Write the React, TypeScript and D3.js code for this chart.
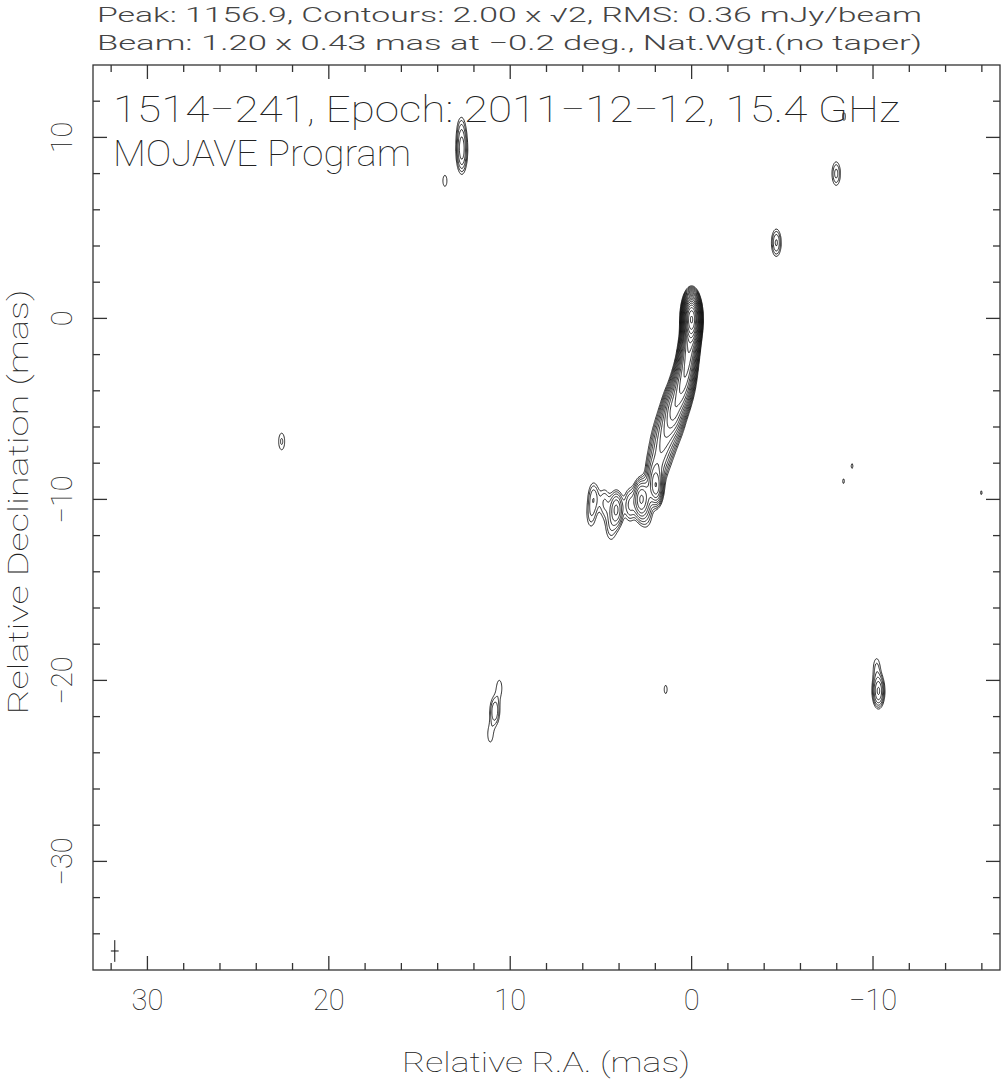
import * as d3 from "d3";
import { useEffect, useRef } from "react";

const width = 1001;
const height = 1079;

// map extent in mas (R.A. runs right to left)
const raDomain = [33, -17];
const decDomain = [14, -36];
const xMajor = [30, 20, 10, 0, -10];
const yMajor = [10, 0, -10, -20, -30];

const headerLines = [
  "Peak: 1156.9, Contours: 2.00 x \u221A2, RMS: 0.36 mJy/beam",
  "Beam: 1.20 x 0.43 mas at \u22120.2 deg., Nat.Wgt.(no taper)",
];
const titleLines = ["1514\u2212241, Epoch: 2011\u221212\u221212, 15.4 GHz", "MOJAVE Program"];

// beam: major, minor (mas), position angle (deg); its plotted position
const beam = [1.2, 0.43, -0.2];
const beamPos = [31.8, -34.95];

// contours: lowest level (mJy/beam), factor, peak
const lowestLevel = 2.0;
const levelFactor = Math.SQRT2;
const peakFlux = 1156.9;

// [ra, dec, peak mJy/beam, extra sigma ra, extra sigma dec]
const coreJet = [
  [0.0, 0.0, 1000, 0, 0],
  [0.03, -0.7, 200, 0.05, 0.1],
  [0.1, -1.4, 110, 0.08, 0.2],
  [0.2, -2.1, 90, 0.1, 0.2],
  [0.3, -2.8, 80, 0.12, 0.2],
  [0.45, -3.5, 70, 0.15, 0.2],
  [0.65, -4.2, 55, 0.17, 0.25],
  [0.95, -4.95, 40, 0.2, 0.3],
  [1.15, -5.6, 22, 0.25, 0.3],
  [1.4, -6.3, 13, 0.28, 0.3],
  [1.6, -7.0, 9, 0.3, 0.3],
  [1.75, -7.7, 7, 0.28, 0.3],
  [1.95, -8.35, 7, 0.25, 0.3],
];
const outerJet = [
  [2.05, -8.95, 10, 0.15, 0.3],
  [1.95, -9.35, 22, 0.05, 0.1],
  [2.45, -9.75, 7, 0.1, 0.2],
  [2.8, -10.0, 22, 0.12, 0.25],
  [3.4, -10.3, 6, 0.1, 0.3],
  [4.15, -10.55, 12, 0.12, 0.25],
  [4.45, -11.5, 3.5, 0.15, 0.4],
  [4.8, -10.2, 4, 0.1, 0.3],
  [5.4, -9.9, 5, 0.1, 0.3],
  [5.55, -10.9, 3, 0.1, 0.3],
  [2.5, -10.9, 3, 0.2, 0.3],
];
const isolated = [
  [12.67, 9.3, 10, 0, 0.55],
  [12.7, 10.5, 2.5, 0, 0.3],
  [13.6, 7.6, 2.4, 0, 0],
  [-7.97, 8.0, 4.5, 0, 0],
  [-4.67, 4.18, 6, 0, 0],
  [22.6, -6.8, 3, 0, 0],
  [-10.3, -20.6, 12, 0.05, 0.1],
  [-10.2, -19.3, 3, 0, 0.2],
  [10.85, -21.7, 5.5, 0.05, 0.2],
  [10.6, -20.4, 2.6, 0, 0.2],
  [11.1, -23.0, 2.6, 0, 0.2],
  [1.43, -20.5, 2.2, 0, 0.1],
  [-8.4, 11.15, 2.2, 0, 0],
  [-8.85, -8.15, 2.05, 0, 0],
  [-8.37, -9.0, 2.05, 0, 0],
  [-15.97, -9.63, 2.05, 0, 0],
];

const font = "Roboto, 'DejaVu Sans', sans-serif";
const ink = "#333";

function ContourMap() {
  const ref = useRef<SVGSVGElement>(null);

  useEffect(() => {
    const svg = d3.select(ref.current);
    svg.selectAll("*").remove();

    const left = 93;
    const right = 1000;
    const top = 65;
    const bottom = 970;

    const x = d3.scaleLinear().domain(raDomain).range([left, right]);
    const y = d3.scaleLinear().domain(decDomain).range([top, bottom]);

    // brightness grid
    const step = 0.05;
    const nx = Math.round((raDomain[0] - raDomain[1]) / step) + 1;
    const ny = Math.round((decDomain[0] - decDomain[1]) / step) + 1;
    const grid = new Float64Array(nx * ny);
    const bsx = beam[1] / 2.3548;
    const bsy = beam[0] / 2.3548;

    [...coreJet, ...outerJet, ...isolated].forEach(([ra, dec, pk, sx, sy]) => {
      const tx = Math.hypot(bsx, sx);
      const ty = Math.hypot(bsy, sy);
      const i0 = Math.max(0, Math.floor((raDomain[0] - ra - 6 * tx) / step));
      const i1 = Math.min(nx - 1, Math.ceil((raDomain[0] - ra + 6 * tx) / step));
      const j0 = Math.max(0, Math.floor((decDomain[0] - dec - 6 * ty) / step));
      const j1 = Math.min(ny - 1, Math.ceil((decDomain[0] - dec + 6 * ty) / step));
      for (let j = j0; j <= j1; j++) {
        const dy = (decDomain[0] - j * step - dec) / ty;
        for (let i = i0; i <= i1; i++) {
          const dx = (raDomain[0] - i * step - ra) / tx;
          grid[j * nx + i] += pk * Math.exp(-0.5 * (dx * dx + dy * dy));
        }
      }
    });

    const levels: number[] = [];
    for (let v = lowestLevel; v <= peakFlux; v *= levelFactor) levels.push(v);

    const contours = d3.contours().size([nx, ny]).thresholds(levels)(grid as any);

    const proj = d3.geoTransform({
      point: function (px: number, py: number) {
        this.stream.point(x(raDomain[0] - (px - 0.5) * step), y(decDomain[0] - (py - 0.5) * step));
      },
    });
    const path = d3.geoPath(proj);

    svg
      .append("clipPath")
      .attr("id", "frame")
      .append("rect")
      .attr("x", left)
      .attr("y", top)
      .attr("width", right - left)
      .attr("height", bottom - top);

    svg
      .append("g")
      .attr("clip-path", "url(#frame)")
      .selectAll("path")
      .data(contours)
      .join("path")
      .attr("d", (d: any) => path(d))
      .attr("fill", "none")
      .attr("stroke", "#111")
      .attr("stroke-width", 0.9);

    // frame
    svg
      .append("rect")
      .attr("x", left)
      .attr("y", top)
      .attr("width", right - left)
      .attr("height", bottom - top)
      .attr("fill", "none")
      .attr("stroke", ink)
      .attr("stroke-width", 1.3);

    const ticks = svg.append("g").attr("stroke", ink).attr("stroke-width", 1.3);
    d3.range(-16, 33, 2).forEach((v) => {
      const len = xMajor.includes(v) ? 14 : 7;
      ticks.append("line").attr("x1", x(v)).attr("x2", x(v)).attr("y1", bottom).attr("y2", bottom - len);
      ticks.append("line").attr("x1", x(v)).attr("x2", x(v)).attr("y1", top).attr("y2", top + len);
    });
    d3.range(-34, 14, 2).forEach((v) => {
      const len = yMajor.includes(v) ? 14 : 7;
      ticks.append("line").attr("y1", y(v)).attr("y2", y(v)).attr("x1", left).attr("x2", left + len);
      ticks.append("line").attr("y1", y(v)).attr("y2", y(v)).attr("x1", right).attr("x2", right - len);
    });

    const fmt = (v: number) => (v < 0 ? "\u2212" + Math.abs(v) : String(v));

    svg
      .append("g")
      .selectAll("text")
      .data(xMajor)
      .join("text")
      .attr("x", (d) => x(d))
      .attr("y", 1010)
      .attr("text-anchor", "middle")
      .attr("font-size", 29)
      .text(fmt);

    svg
      .append("g")
      .selectAll("text")
      .data(yMajor)
      .join("text")
      .attr("transform", (d) => `translate(72,${y(d)}) rotate(-90)`)
      .attr("text-anchor", "middle")
      .attr("font-size", 29)
      .text(fmt);

    svg
      .append("text")
      .attr("x", 546)
      .attr("y", 1072)
      .attr("text-anchor", "middle")
      .attr("font-size", 28)
      .attr("textLength", 288)
      .attr("lengthAdjust", "spacingAndGlyphs")
      .text("Relative R.A. (mas)");

    svg
      .append("text")
      .attr("transform", `translate(28,502) rotate(-90)`)
      .attr("text-anchor", "middle")
      .attr("font-size", 27)
      .attr("textLength", 425)
      .attr("lengthAdjust", "spacingAndGlyphs")
      .text("Relative Declination (mas)");

    headerLines.forEach((t, i) => {
      svg
        .append("text")
        .attr("x", 97)
        .attr("y", 22 + i * 28)
        .attr("font-size", 20)
        .attr("font-weight", 300)
        .attr("fill", "#444")
        .attr("textLength", 825)
        .attr("lengthAdjust", "spacingAndGlyphs")
        .text(t);
    });

    svg
      .append("text")
      .attr("x", 113)
      .attr("y", 122)
      .attr("font-size", 36)
      .attr("textLength", 787)
      .attr("lengthAdjust", "spacingAndGlyphs")
      .text(titleLines[0]);
    svg
      .append("text")
      .attr("x", 113)
      .attr("y", 166)
      .attr("font-size", 36)
      .attr("textLength", 298)
      .attr("lengthAdjust", "spacingAndGlyphs")
      .text(titleLines[1]);

    // restoring beam shown as a cross
    const bx = x(beamPos[0]);
    const by = y(beamPos[1]);
    const halfMaj = (y(0) - y(beam[0])) / 2;
    const halfMin = (x(0) - x(beam[1])) / 2;
    const cross = svg.append("g").attr("stroke", "#111").attr("stroke-width", 1);
    cross.append("line").attr("x1", bx).attr("x2", bx).attr("y1", by - halfMaj).attr("y2", by + halfMaj);
    cross.append("line").attr("x1", bx - halfMin).attr("x2", bx + halfMin).attr("y1", by).attr("y2", by);
  }, []);

  return (
    <svg
      ref={ref}
      width={width}
      height={height}
      style={{ position: "absolute", left: 0, top: 0, background: "#fff" }}
      fontFamily={font}
      fontWeight={100}
      fill="#222"
    />
  );
}

export default function App() {
  return <ContourMap />;
}
